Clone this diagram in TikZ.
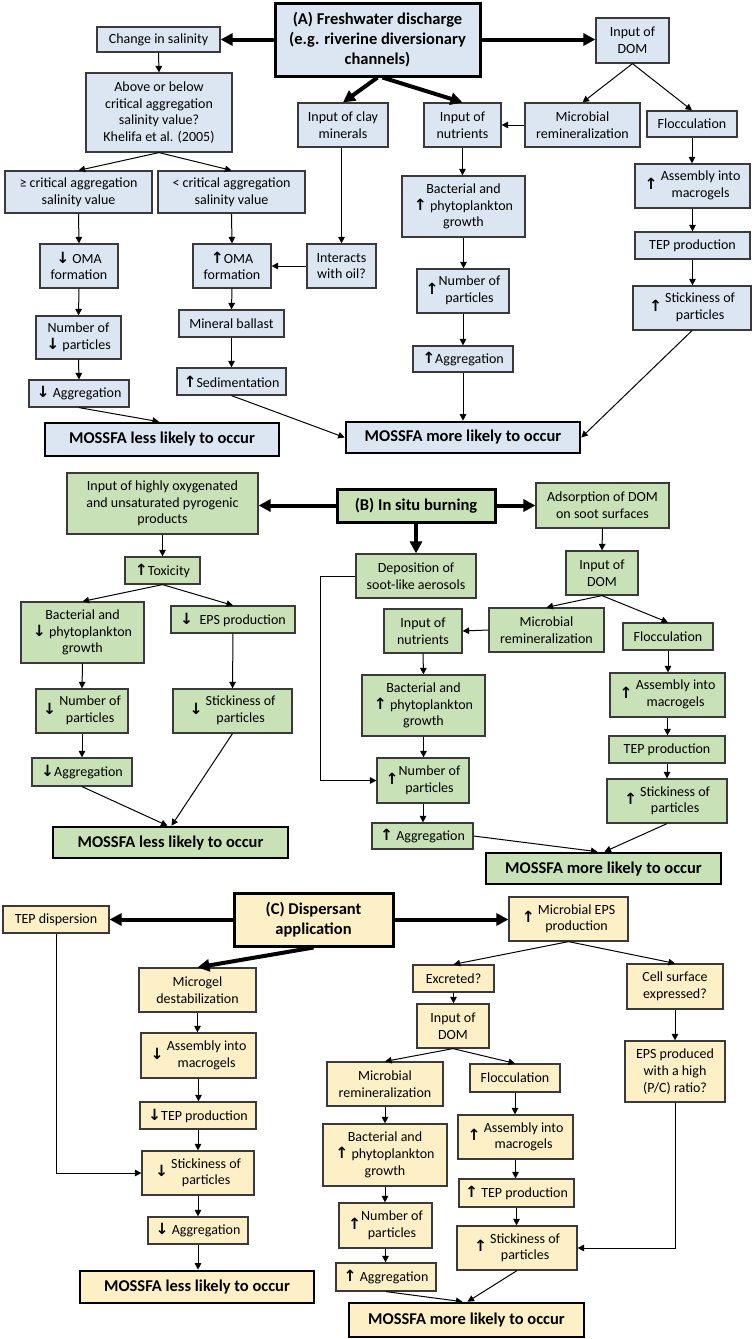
\documentclass[tikz,border=0pt]{standalone}
\usepackage{fontspec}
\setmainfont{Carlito}
\newfontfamily\arw{DejaVu Sans}
\usetikzlibrary{arrows.meta}
\definecolor{bA}{HTML}{DCE6F2}
\definecolor{gB}{HTML}{C9E1B6}
\definecolor{yC}{HTML}{FDF0C6}
\definecolor{bd}{HTML}{3A3A3A}
\newcommand\ua{{\arw\bfseries\fontsize{15.5}{15}\selectfont ↑}}
\newcommand\da{{\arw\bfseries\fontsize{15.5}{15}\selectfont ↓}}
\newcommand\twol[2]{\begin{tabular}{@{}c@{}}#1\\#2\end{tabular}}
\newcommand\bx[8][]{\node[#2,#1,minimum width={(#5-#3)*1pt},minimum height={(#6-#4)*1pt}] (#7) at ({(#3+#5)/2},{(#4+#6)/2}) {#8};}
\begin{document}
\begin{tikzpicture}[x=1pt,y=-1pt,
  box/.style={draw=bd, line width=1.2pt, inner sep=0pt, align=center, font=\fontsize{14}{16.7}\selectfont},
  boxA/.style={box, fill=bA}, boxB/.style={box, fill=gB}, boxC/.style={box, fill=yC},
  mainbox/.style={draw=black, line width=3pt, inner sep=0pt, align=center, font=\fontsize{16.5}{20}\selectfont\bfseries},
  mainA/.style={mainbox, fill=bA}, mainB/.style={mainbox, fill=gB}, mainC/.style={mainbox, fill=yC},
  resbox/.style={draw=black, line width=2.6pt, inner sep=0pt, align=center, font=\fontsize{16.5}{19}\selectfont\bfseries},
  resA/.style={resbox, fill=bA}, resB/.style={resbox, fill=gB}, resC/.style={resbox, fill=yC},
  ar/.style={-{Triangle[length=6.5pt,width=6.5pt]}, line width=1pt},
  thk/.style={-{Triangle[length=12pt,width=12pt]}, line width=4pt},
]
\fill[white] (0,0) rectangle (754,1339);
\useasboundingbox (0,0) rectangle (754,1339);

% ---------------- Section A ----------------
\bx{mainA}{275}{3}{480}{76}{A}{(A) Freshwater discharge\\(e.g. riverine diversionary\\channels)}
\bx{boxA}{97}{27}{220}{52}{cs}{Change in salinity}
\bx{boxA}{86}{73}{232}{152}{ab}{Above or below\\critical aggregation\\salinity value?\\Khelifa et al. (2005)}
\bx{boxA}{5}{171}{152}{213}{ge}{≥ critical aggregation\\salinity value}
\bx{boxA}{158}{171}{305}{213}{lt}{< critical aggregation\\salinity value}
\bx{boxA}{40}{244}{118}{288}{omad}{\da\ OMA\\formation}
\bx{boxA}{193}{244}{271}{288}{omau}{\ua OMA\\formation}
\bx{boxA}{298}{103}{388}{147}{clay}{Input of clay\\minerals}
\bx{boxA}{307}{244}{376}{288}{inter}{Interacts\\with oil?}
\bx{boxA}{36}{316}{121}{359}{nd}{Number of\\\da\ particles}
\bx{boxA}{29}{380}{129}{407}{agd}{\da\ Aggregation}
\bx{boxA}{179}{310}{284}{337}{mb}{Mineral ballast}
\bx{boxA}{177}{368}{286}{395}{sed}{\ua Sedimentation}
\bx{resA}{45}{423}{279}{456}{lessA}{MOSSFA less likely to occur}
\bx{resA}{346}{422}{580}{453}{moreA}{MOSSFA more likely to occur}
\bx{boxA}{424}{103}{501}{147}{nutA}{Input of\\nutrients}
\bx{boxA}{525}{103}{640}{147}{micA}{Microbial\\remineralization}
\bx{boxA}{596}{18}{669}{63}{domA}{Input of\\DOM}
\bx{boxA}{647}{111}{737}{137}{flocA}{Flocculation}
\bx{boxA}{635}{164}{750}{208}{asmA}{\ua\ \twol{Assembly into}{macrogels}}
\bx{boxA}{635}{232}{750}{259}{tepA}{TEP production}
\bx{boxA}{633}{286}{751}{330}{stkA}{\ua\ \twol{Stickiness of}{particles}}
\bx{boxA}{402}{176}{525}{237}{bacA}{Bacterial and\\\ua\ phytoplankton\\growth}
\bx{boxA}{417}{269}{509}{313}{numA}{\ua\twol{Number of}{particles}}
\bx{boxA}{413}{346}{513}{372}{aggA}{\ua Aggregation}

\draw[thk] (A.west) -- (cs.east);
\draw[thk] (A.east) -- (A.east -| domA.west);
\draw[thk] (A.south) -- (clay.north);
\draw[thk] ([xshift=5pt]A.south) -- (nutA.north);
\draw[ar] (cs.south) -- (ab.north);
\draw[ar] (ab.south) -- (ge.north);
\draw[ar] (ab.south) -- (lt.north);
\draw[ar] (ge.south) -- (omad.north);
\draw[ar] (lt.south) -- (omau.north);
\draw[ar] (clay.south -| inter.north) -- (inter.north);
\draw[ar] (inter.west) -- (omau.east);
\draw[ar] (omad.south) -- (nd.north);
\draw[ar] (nd.south) -- (agd.north);
\draw[ar] (agd.south) -- ([xshift=-3pt]lessA.north);
\draw[ar] (omau.south) -- (mb.north);
\draw[ar] (mb.south) -- (sed.north);
\draw[ar] (sed.south) -- (moreA.west);
\draw[ar] (domA.south) -- (micA.north);
\draw[ar] (domA.south) -- (flocA.north);
\draw[ar] (micA.west) -- (nutA.east);
\draw[ar] (nutA.south) -- (nutA.south |- bacA.north);
\draw[ar] (bacA.south) -- (bacA.south |- numA.north);
\draw[ar] (numA.south) -- (numA.south |- aggA.north);
\draw[ar] (aggA.south) -- (aggA.south |- moreA.north);
\draw[ar] (flocA.south) -- (flocA.south |- asmA.north);
\draw[ar] (asmA.south) -- (tepA.north);
\draw[ar] (tepA.south) -- (tepA.south |- stkA.north);
\draw[ar] (stkA.south) -- (moreA.east);

% ---------------- Section B ----------------
\bx{mainB}{337}{489}{495}{522}{B}{(B) In situ burning}
\bx{boxB}{67}{473}{258}{534}{hox}{Input of highly oxygenated\\and unsaturated pyrogenic\\products}
\bx{boxB}{536}{483}{669}{528}{ads}{Adsorption of DOM\\on soot surfaces}
\bx{boxB}{125}{557}{200}{584}{tox}{\ua Toxicity}
\bx{boxB}{21}{602}{144}{663}{bacBa}{Bacterial and\\\da\ phytoplankton\\growth}
\bx{boxB}{171}{606}{295}{633}{eps}{\da\ \ EPS production}
\bx{boxB}{36}{689}{128}{733}{numBa}{\da\ \twol{Number of}{particles}}
\bx{boxB}{173}{689}{292}{733}{stkBa}{\da\ \twol{Stickiness of}{particles}}
\bx{boxB}{32}{758}{132}{786}{aggBa}{\da Aggregation}
\bx{resB}{53}{827}{288}{858}{lessB}{MOSSFA less likely to occur}
\bx{boxB}{356}{554}{476}{598}{dep}{Deposition of\\soot-like aerosols}
\bx{boxB}{566}{551}{638}{595}{domB}{Input of\\DOM}
\bx{boxB}{489}{608}{604}{652}{micB}{Microbial\\remineralization}
\bx{boxB}{384}{609}{462}{653}{nutB}{Input of\\nutrients}
\bx{boxB}{623}{623}{713}{650}{flocB}{Flocculation}
\bx{boxB}{610}{673}{725}{717}{asmB}{\ua\ \twol{Assembly into}{macrogels}}
\bx{boxB}{609}{736}{725}{763}{tepB}{TEP production}
\bx{boxB}{607}{779}{727}{823}{stkB}{\ua\ \twol{Stickiness of}{particles}}
\bx{boxB}{362}{675}{485}{736}{bacB}{Bacterial and\\\ua\ phytoplankton\\growth}
\bx{boxB}{377}{758}{469}{803}{numB}{\ua\twol{Number of}{particles}}
\bx{boxB}{372}{823}{473}{849}{aggB}{\ua\ Aggregation}
\bx{resB}{486}{853}{721}{884}{moreB}{MOSSFA more likely to occur}
\coordinate (e1) at (320,576);

\draw[thk] (B.west) -- (B.west -| hox.east);
\draw[thk] (B.east) -- (ads.west);
\draw[thk] (B.south) -- (dep.north);
\draw[ar] (hox.south) -- (tox.north);
\draw[ar] (tox.south) -- (bacBa.north);
\draw[ar] (tox.south) -- (eps.north);
\draw[ar] (bacBa.south) -- (numBa.north);
\draw[ar] (numBa.south) -- (aggBa.north);
\draw[ar] (aggBa.south) -- ([xshift=-3pt]lessB.north);
\draw[ar] (eps.south) -- (stkBa.north);
\draw[ar] (stkBa.south) -- ([xshift=1pt]lessB.north);
\draw[ar] (ads.south) -- (domB.north);
\draw[ar] (domB.south) -- (micB.north);
\draw[ar] (domB.south) -- (flocB.north);
\draw[ar] (micB.west) -- (nutB.east);
\draw[ar] (nutB.south) -- (bacB.north);
\draw[ar] (bacB.south) -- (bacB.south |- numB.north);
\draw[ar] (numB.south) -- (numB.south |- aggB.north);
\draw[ar] (dep.west) -- (e1) |- (numB.west);
\draw[ar] (aggB.east) -- ([xshift=-6pt]moreB.north);
\draw[ar] (flocB.south) -- (flocB.south |- asmB.north);
\draw[ar] (asmB.south) -- (asmB.south |- tepB.north);
\draw[ar] (tepB.south) -- (tepB.south |- stkB.north);
\draw[ar] (stkB.south) -- ([xshift=1pt]moreB.north);

% ---------------- Section C ----------------
\bx{mainC}{234}{893}{393}{946}{C}{(C) Dispersant\\application}
\bx{boxC}{3}{906}{109}{933}{tepd}{TEP dispersion}
\bx{boxC}{509}{897}{628}{941}{epsC}{\ua\ \twol{Microbial EPS}{production}}
\bx{boxC}{139}{968}{256}{1012}{mg}{Microgel\\destabilization}
\bx{boxC}{141}{1033}{256}{1078}{asmCa}{\da\ \twol{Assembly into}{macrogels}}
\bx{boxC}{140}{1102}{256}{1129}{tepCa}{\da TEP production}
\bx{boxC}{142}{1151}{254}{1195}{stkCa}{\da\ \twol{Stickiness of}{particles}}
\bx{boxC}{148}{1217}{248}{1244}{aggCa}{\da\ Aggregation}
\bx{resC}{80}{1271}{314}{1303}{lessC}{MOSSFA less likely to occur}
\bx{boxC}{413}{965}{494}{992}{exc}{Excreted?}
\bx{boxC}{627}{964}{723}{1009}{cell}{Cell surface\\expressed?}
\bx{boxC}{417}{1004}{489}{1048}{domC}{Input of\\DOM}
\bx{boxC}{327}{1062}{443}{1106}{micC}{Microbial\\remineralization}
\bx{boxC}{470}{1064}{560}{1092}{flocC}{Flocculation}
\bx{boxC}{625}{1041}{725}{1102}{epsP}{EPS produced\\with a high\\(P/C) ratio?}
\bx{boxC}{458}{1115}{573}{1159}{asmC}{\ua\ \twol{Assembly into}{macrogels}}
\bx{boxC}{459}{1179}{574}{1207}{tepC}{\ua\ TEP production}
\bx{boxC}{457}{1226}{577}{1270}{stkC}{\ua\ \twol{Stickiness of}{particles}}
\bx{boxC}{323}{1124}{447}{1186}{bacC}{Bacterial and\\\ua\ phytoplankton\\growth}
\bx{boxC}{339}{1203}{432}{1248}{numC}{\ua\twol{Number of}{particles}}
\bx{boxC}{336}{1263}{436}{1291}{aggC}{\ua\ Aggregation}
\bx{resC}{349}{1303}{584}{1337}{moreC}{MOSSFA more likely to occur}

\draw[thk] (C.west) -- (C.west -| tepd.east);
\draw[thk] (C.east) -- (C.east -| epsC.west);
\draw[thk] (C.south) -- (mg.north);
\draw[ar] (mg.south) -- (mg.south |- asmCa.north);
\draw[ar] (asmCa.south) -- (asmCa.south |- tepCa.north);
\draw[ar] (tepCa.south) -- (tepCa.south |- stkCa.north);
\draw[ar] (stkCa.south) -- (stkCa.south |- aggCa.north);
\draw[ar] (aggCa.south) -- (aggCa.south |- lessC.north);
\draw[ar] (tepd.south) |- (stkCa.west);
\draw[ar] (epsC.south) -- (exc.north);
\draw[ar] (epsC.south) -- (cell.north);
\draw[ar] (exc.south) -- (exc.south |- domC.north);
\draw[ar] (domC.south) -- (micC.north);
\draw[ar] (domC.south) -- (flocC.north);
\draw[ar] (micC.south) -- (micC.south |- bacC.north);
\draw[ar] (bacC.south) -- (bacC.south |- numC.north);
\draw[ar] (numC.south) -- (numC.south |- aggC.north);
\draw[ar] (aggC.south) -- ([xshift=-4pt]moreC.north);
\draw[ar] (flocC.south) -- (flocC.south |- asmC.north);
\draw[ar] (asmC.south) -- (asmC.south |- tepC.north);
\draw[ar] (tepC.south) -- (tepC.south |- stkC.north);
\draw[ar] (stkC.south) -- ([xshift=1pt]moreC.north);
\draw[ar] (cell.south) -- (cell.south |- epsP.north);
\draw[ar] (epsP.south) |- (stkC.east);
\end{tikzpicture}
\end{document}
